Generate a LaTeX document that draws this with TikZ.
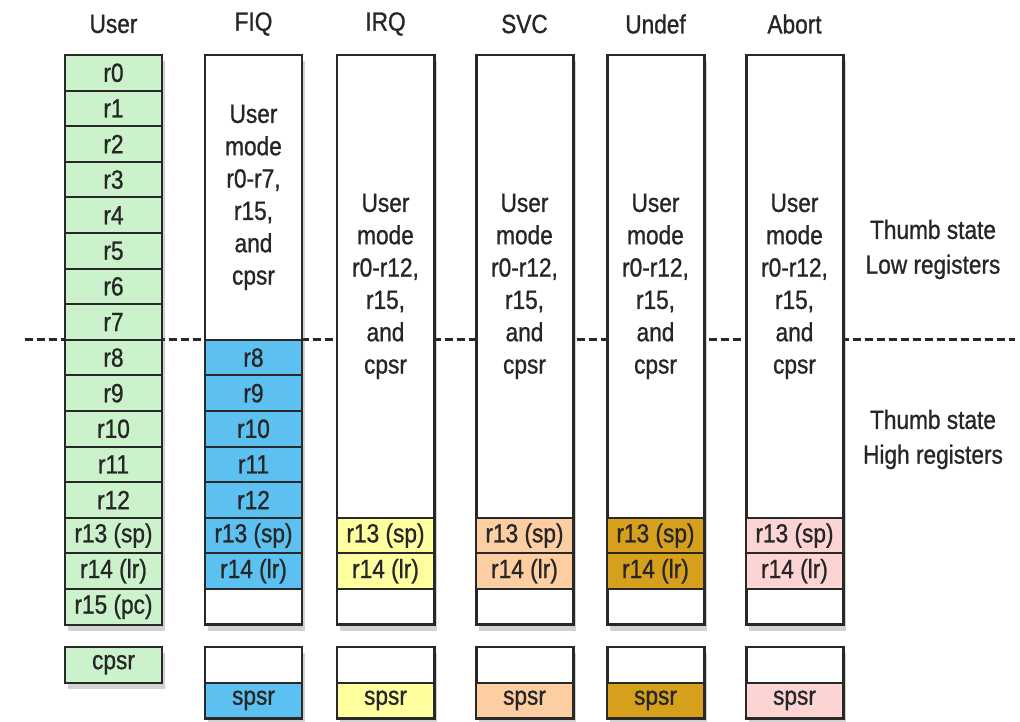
\documentclass[tikz,border=0pt]{standalone}
\usepackage{fontspec}
\setmainfont{Liberation Sans}[FakeStretch=0.86, FakeBold=0.9]
\usetikzlibrary{shadows}

\definecolor{usergreen}{RGB}{204,242,204}
\definecolor{fiqblue}{RGB}{92,192,240}
\definecolor{irqyellow}{RGB}{255,255,160}
\definecolor{svcpeach}{RGB}{252,206,162}
\definecolor{undefgold}{RGB}{214,160,28}
\definecolor{abortpink}{RGB}{252,212,212}
\definecolor{edge}{RGB}{40,40,40}

\begin{document}
\begin{tikzpicture}[x=0.02cm, y=-0.02cm,
    every node/.style={font=\fontsize{15}{18.4}\selectfont, text=black!85},
    reg/.style={draw=edge, line width=1.2pt, minimum width=1.94cm, minimum height=0.712cm, inner sep=0pt, outer sep=0pt},
    frame/.style={draw=edge, line width=1.7pt, fill=white, drop shadow={shadow xshift=0.05cm, shadow yshift=-0.12cm, opacity=0.25, fill=black!70}},
    thumb/.style={align=center, font=\fontsize{15}{19.8}\selectfont}]
    \useasboundingbox (0,0) rectangle (1020,722);

    % Split between low and high registers
    \draw[line width=1.7pt, edge, dash pattern=on 0.16cm off 0.08cm] (25,339.8) -- (1015,339.8);

    % Mode titles
    \foreach \x/\t in {113.5/User, 253.5/FIQ, 385.5/IRQ, 524.5/SVC, 655.5/Undef, 794.5/Abort}
        \node (head-\t) at (\x,24) {\t};

    % User registers
    \draw[frame] (65,55) rectangle (162,624.6);
    \foreach \i in {0,...,12}
        \node[reg, fill=usergreen] (user-r\i) at (113.5, 72.8+35.6*\i) {r\i};
    \node[reg, fill=usergreen] (user-sp) at (113.5, 535.6) {r13 (sp)};
    \node[reg, fill=usergreen] (user-lr) at (113.5, 571.2) {r14 (lr)};
    \node[reg, fill=usergreen] (user-pc) at (113.5, 606.8) {r15 (pc)};
    \draw[frame] (65,647) rectangle (162,682.6);
    \node[reg, fill=usergreen] (user-cpsr) at (113.5, 664.8) {cpsr};

    % FIQ banks r8-r14
    \draw[frame] (205,55) rectangle (302,624.6);
    \node[reg, minimum height=5.696cm, align=center] (fiq-low) at (253.5, 197.4) {User\\mode\\r0-r7,\\r15,\\and\\cpsr};
    \foreach \i in {8,...,12}
        \node[reg, fill=fiqblue] (fiq-r\i) at (253.5, 72.8+35.6*\i) {r\i};
    \node[reg, fill=fiqblue] (fiq-sp) at (253.5, 535.6) {r13 (sp)};
    \node[reg, fill=fiqblue] (fiq-lr) at (253.5, 571.2) {r14 (lr)};
    \node[reg] (fiq-pc) at (253.5, 606.8) {};
    \draw[frame] (205,647) rectangle (302,718.2);
    \node[reg] (fiq-cpsr) at (253.5, 664.8) {};
    \node[reg, fill=fiqblue] (fiq-spsr) at (253.5, 700.4) {spsr};

    % Other modes bank only r13, r14 and spsr
    \foreach \m/\x/\c in {irq/385.5/irqyellow, svc/524.5/svcpeach, undef/655.5/undefgold, abort/794.5/abortpink} {
        \draw[frame] (\x-48.5,55) rectangle (\x+48.5,624.6);
        \node[reg, minimum height=9.256cm, align=center] (\m-low) at (\x, 286.4) {User\\mode\\r0-r12,\\r15,\\and\\cpsr};
        \node[reg, fill=\c] (\m-sp) at (\x, 535.6) {r13 (sp)};
        \node[reg, fill=\c] (\m-lr) at (\x, 571.2) {r14 (lr)};
        \node[reg] (\m-pc) at (\x, 606.8) {};
        \draw[frame] (\x-48.5,647) rectangle (\x+48.5,718.2);
        \node[reg] (\m-cpsr) at (\x, 664.8) {};
        \node[reg, fill=\c] (\m-spsr) at (\x, 700.4) {spsr};
    }

    % Thumb state notes
    \node[thumb] (low-note) at (933,249.5) {Thumb state\\Low registers};
    \node[thumb] (high-note) at (933,439.5) {Thumb state\\High registers};
\end{tikzpicture}
\end{document}
